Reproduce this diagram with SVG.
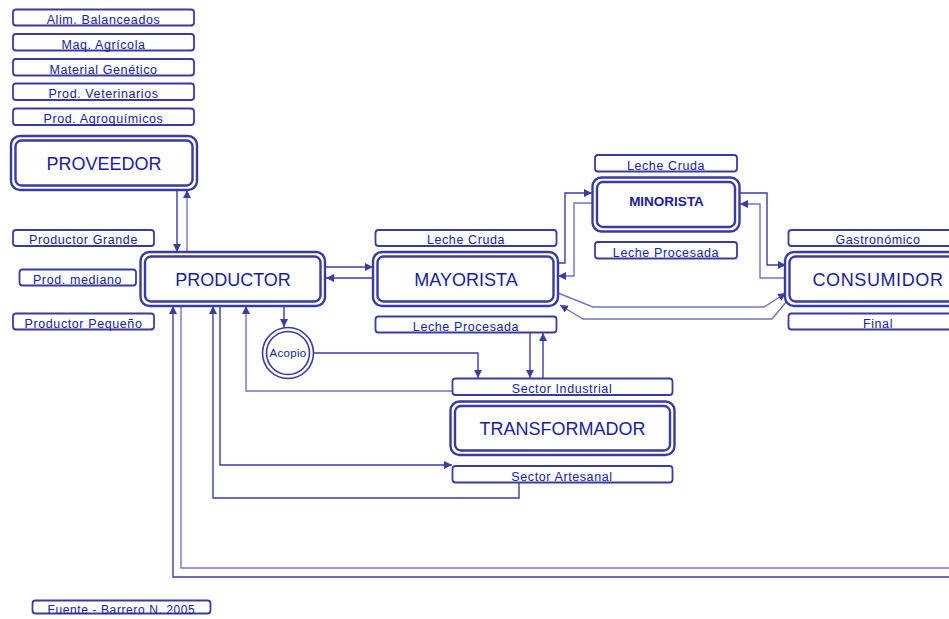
<svg xmlns="http://www.w3.org/2000/svg" width="949" height="619" viewBox="0 0 949 619">
<style>
.lbl rect{fill:#fff;stroke:#3b3b9e;stroke-width:1.8}
.lbl text{font-family:"Liberation Sans",Arial,sans-serif;font-size:12.5px;fill:#2020a0;text-anchor:middle;letter-spacing:0.6px}
.big .o{fill:#fff;stroke:#3b3b9e;stroke-width:2.4}
.big .i{fill:#fff;stroke:#3b3b9e;stroke-width:2.4}
.big text{font-family:"Liberation Sans",Arial,sans-serif;font-size:18px;fill:#1c1c96;text-anchor:middle}
.c path{fill:none;stroke:#3d3da0;stroke-width:1.4}
.c path.l{stroke:#7474bc}
</style>
<defs>
<marker id="ah" markerUnits="userSpaceOnUse" markerWidth="9" markerHeight="8" refX="8" refY="4" orient="auto"><path d="M0,0 L8,4 L0,8 z" fill="#3d3da0"/></marker>
</defs>

<g id="connectors" class="c">
<path d="M177,191 V252" marker-end="url(#ah)"/>
<path class="l" d="M187,252 V190" marker-end="url(#ah)"/>
<path d="M325,267 H373" marker-end="url(#ah)"/>
<path d="M373,278 H326" marker-end="url(#ah)"/>
<path d="M557,263 H565 V193 H592" marker-end="url(#ah)"/>
<path class="l" d="M595,203 H574 V276 H558" marker-end="url(#ah)"/>
<path d="M739,193 H767 V265 H786" marker-end="url(#ah)"/>
<path class="l" d="M786,278 H760 V204 H740" marker-end="url(#ah)"/>
<path class="l" d="M558,293 L593,307 H764 L786,293" marker-end="url(#ah)"/>
<path class="l" d="M787,301 L772,319 H583 L560,305" marker-end="url(#ah)"/>
<path d="M284,306 V327" marker-end="url(#ah)"/>
<path d="M314,353 H478 V378" marker-end="url(#ah)"/>
<path d="M530,333 V378" marker-end="url(#ah)"/>
<path d="M543,378 V333" marker-end="url(#ah)"/>
<path class="l" d="M452,391 H246 V306" marker-end="url(#ah)"/>
<path d="M220,306 V465 H452" marker-end="url(#ah)"/>
<path d="M519,482 V498 H213 V306" marker-end="url(#ah)"/>
<path class="l" d="M181,306 V568 H949"/>
<path d="M949,577 H173 V306" marker-end="url(#ah)"/>
</g>

<g id="alim" class="lbl"><rect x="13" y="9.5" width="181" height="16" rx="3"/><text x="103.5" y="24">Alim. Balanceados</text></g>
<g id="maq" class="lbl"><rect x="13" y="34" width="181" height="16.5" rx="3"/><text x="103.5" y="48.5">Maq. Agrícola</text></g>
<g id="genetico" class="lbl"><rect x="13" y="59" width="181" height="16.5" rx="3"/><text x="103.5" y="73.5">Material Genético</text></g>
<g id="veterinarios" class="lbl"><rect x="13" y="83.5" width="181" height="16.5" rx="3"/><text x="103.5" y="98">Prod. Veterinarios</text></g>
<g id="agroquimicos" class="lbl"><rect x="13" y="108.5" width="181" height="16.5" rx="3"/><text x="103.5" y="123">Prod. Agroquímicos</text></g>

<g id="proveedor" class="big"><rect class="o" x="11" y="136" width="186" height="54" rx="9"/><rect class="i" x="15.5" y="140.5" width="177" height="45" rx="6"/><text x="104" y="169.5">PROVEEDOR</text></g>

<g id="grande" class="lbl"><rect x="13" y="230" width="141" height="16" rx="3"/><text x="83.5" y="244">Productor Grande</text></g>
<g id="mediano" class="lbl"><rect x="19.5" y="269.5" width="116.5" height="16" rx="3"/><text x="77.5" y="283.5">Prod. mediano</text></g>
<g id="pequeno" class="lbl"><rect x="13" y="313.5" width="141" height="16" rx="3"/><text x="83.5" y="327.5">Productor Pequeño</text></g>

<g id="productor" class="big"><rect class="o" x="140.5" y="252" width="184.5" height="54" rx="9"/><rect class="i" x="145" y="256.5" width="175.5" height="45" rx="6"/><text x="233" y="285.5">PRODUCTOR</text></g>

<g id="mayorista_cruda" class="lbl"><rect x="375.5" y="230" width="181" height="16" rx="3"/><text x="466" y="244">Leche Cruda</text></g>
<g id="mayorista" class="big"><rect class="o" x="373" y="252" width="185" height="54" rx="9"/><rect class="i" x="377.5" y="256.5" width="176" height="45" rx="6"/><text x="466" y="285.5">MAYORISTA</text></g>
<g id="mayorista_procesada" class="lbl"><rect x="375.5" y="316.5" width="181" height="16" rx="3"/><text x="466" y="330.5">Leche Procesada</text></g>

<g id="minorista_cruda" class="lbl"><rect x="595" y="155" width="142" height="16.5" rx="3"/><text x="666" y="169.5">Leche Cruda</text></g>
<g id="minorista" class="big"><rect class="o" x="592.5" y="177.5" width="147" height="54" rx="9"/><rect class="i" x="597" y="182" width="138" height="45" rx="6"/><text x="666.5" y="205.5" style="font-size:13.5px;font-weight:bold">MINORISTA</text></g>
<g id="minorista_procesada" class="lbl"><rect x="595" y="242" width="142" height="16.5" rx="3"/><text x="666" y="256.5">Leche Procesada</text></g>

<g id="gastronomico" class="lbl"><rect x="788.5" y="230" width="182" height="16" rx="3"/><text x="878" y="244">Gastronómico</text></g>
<g id="consumidor" class="big"><rect class="o" x="785" y="252" width="185" height="54" rx="9"/><rect class="i" x="789.5" y="256.5" width="176" height="45" rx="6"/><text x="878" y="285.5" style="letter-spacing:0.6px">CONSUMIDOR</text></g>
<g id="final" class="lbl"><rect x="788.5" y="313.5" width="182" height="16" rx="3"/><text x="878" y="327.5">Final</text></g>

<g id="acopio"><circle cx="288" cy="353" r="25.5" fill="#fff" stroke="#3b3b9e" stroke-width="1.6"/><circle cx="288" cy="353" r="21.5" fill="#fff" stroke="#3b3b9e" stroke-width="1.6"/><text x="288" y="357" style="font-family:'Liberation Sans',Arial,sans-serif;font-size:11.5px;fill:#2020a0;text-anchor:middle;letter-spacing:0.3px">Acopio</text></g>

<g id="industrial" class="lbl"><rect x="452.5" y="378.5" width="220" height="16.5" rx="3"/><text x="562" y="393">Sector Industrial</text></g>
<g id="transformador" class="big"><rect class="o" x="450.5" y="401.5" width="224" height="53.5" rx="9"/><rect class="i" x="455" y="406" width="215" height="44.5" rx="6"/><text x="562.5" y="434.5">TRANSFORMADOR</text></g>
<g id="artesanal" class="lbl"><rect x="452.5" y="466" width="220" height="16.5" rx="3"/><text x="562" y="480.5">Sector Artesanal</text></g>

<g id="fuente" class="lbl"><rect x="32.5" y="600.5" width="178" height="13" rx="3"/><text x="121.5" y="614" style="font-size:12px">Fuente - Barrero N. 2005</text></g>
</svg>
